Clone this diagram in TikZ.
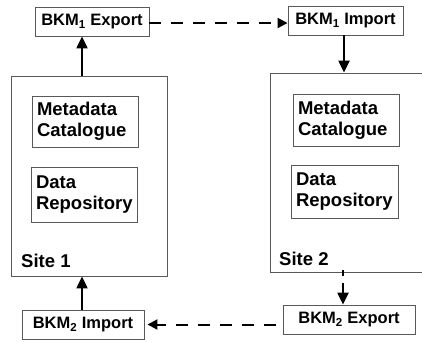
\documentclass[tikz,border=0pt]{standalone}
\usepackage{fontspec}
\setmainfont{Liberation Sans}
\usetikzlibrary{arrows.meta}
\begin{document}
\begin{tikzpicture}[x=1pt,y=-1pt,
  box/.style={draw=black!65, line width=0.9pt, inner sep=0pt, align=center,
    font=\fontsize{16.5}{21}\selectfont\bfseries},
  inbox/.style={box, align=left, inner xsep=5pt, font=\fontsize{18.5}{21}\selectfont\bfseries},
  site/.style={draw=black!65, line width=0.9pt, inner sep=0pt},
  lbl/.style={font=\fontsize{18.5}{21}\selectfont\bfseries, inner sep=0pt, anchor=base west},
  arr/.style={line width=2.3pt, -{Triangle[length=12pt,width=11pt]}},
  darr/.style={line width=2pt, dash pattern=on 12pt off 10pt, -{Triangle[length=10pt,width=10pt]}}]
\useasboundingbox (0,0) rectangle (422,341);
\clip (0,0) rectangle (422,341);
% sites
\node[site, minimum width=156pt, minimum height=200pt] (site1) at (89,176) {};
\node[site, minimum width=160pt, minimum height=199pt] (site2) at (350,172.5) {};
\node[lbl] (s1) at (21,267) {Site 1};
\node[lbl] (s2) at (279,265) {Site 2};
% inner boxes
\node[inbox, minimum width=106pt, minimum height=51pt, text width=96pt] (mc1) at (85,121.5) {Metadata\\Catalogue};
\node[inbox, minimum width=106pt, minimum height=55pt, text width=96pt] (dr1) at (84,194.5) {Data\\Repository};
\node[inbox, minimum width=106pt, minimum height=52pt, text width=96pt] (mc2) at (346,120) {Metadata\\Catalogue};
\node[inbox, minimum width=107pt, minimum height=53pt, text width=97pt] (dr2) at (344.5,191.5) {Data\\Repository};
% BKM boxes
\node[box, minimum width=114pt, minimum height=29pt] (exp1) at (92,21.5) {BKM\textsubscript{1} Export};
\node[box, minimum width=115pt, minimum height=29pt] (imp1) at (345.5,20.5) {BKM\textsubscript{1} Import};
\node[box, minimum width=122pt, minimum height=29pt] (imp2) at (83,324.5) {BKM\textsubscript{2} Import};
\node[box, minimum width=132pt, minimum height=29pt] (exp2) at (349,319.5) {BKM\textsubscript{2} Export};
% arrows
\draw[arr] ([xshift=-7pt]site1.north) -- ([xshift=-10pt]exp1.south);
\draw[arr] ([xshift=-1.5pt]imp1.south) -- ([xshift=-6pt]site2.north);
\draw[arr] ([xshift=-1pt]imp2.north) -- ([xshift=-7pt]site1.south);
\coordinate (t1) at ([xshift=-7pt,yshift=2pt]site2.south);
\coordinate (t2) at ([xshift=-7pt,yshift=-4pt]site2.south);
\coordinate (t3) at ([xshift=-7pt,yshift=-11pt]site2.south);
\draw[line width=1.5pt] (t1) -- (t2);
\draw[arr] (t3) -- (t3 |- exp2.north);
\draw[darr] ([yshift=-1.5pt]exp1.east) -- ([yshift=-1.5pt]exp1.east -| imp1.west);
\coordinate (d2) at ([xshift=-7pt]exp2.west |- imp2.east);
\draw[darr, shorten >=3pt] (d2) -- (imp2.east);
\end{tikzpicture}
\end{document}
